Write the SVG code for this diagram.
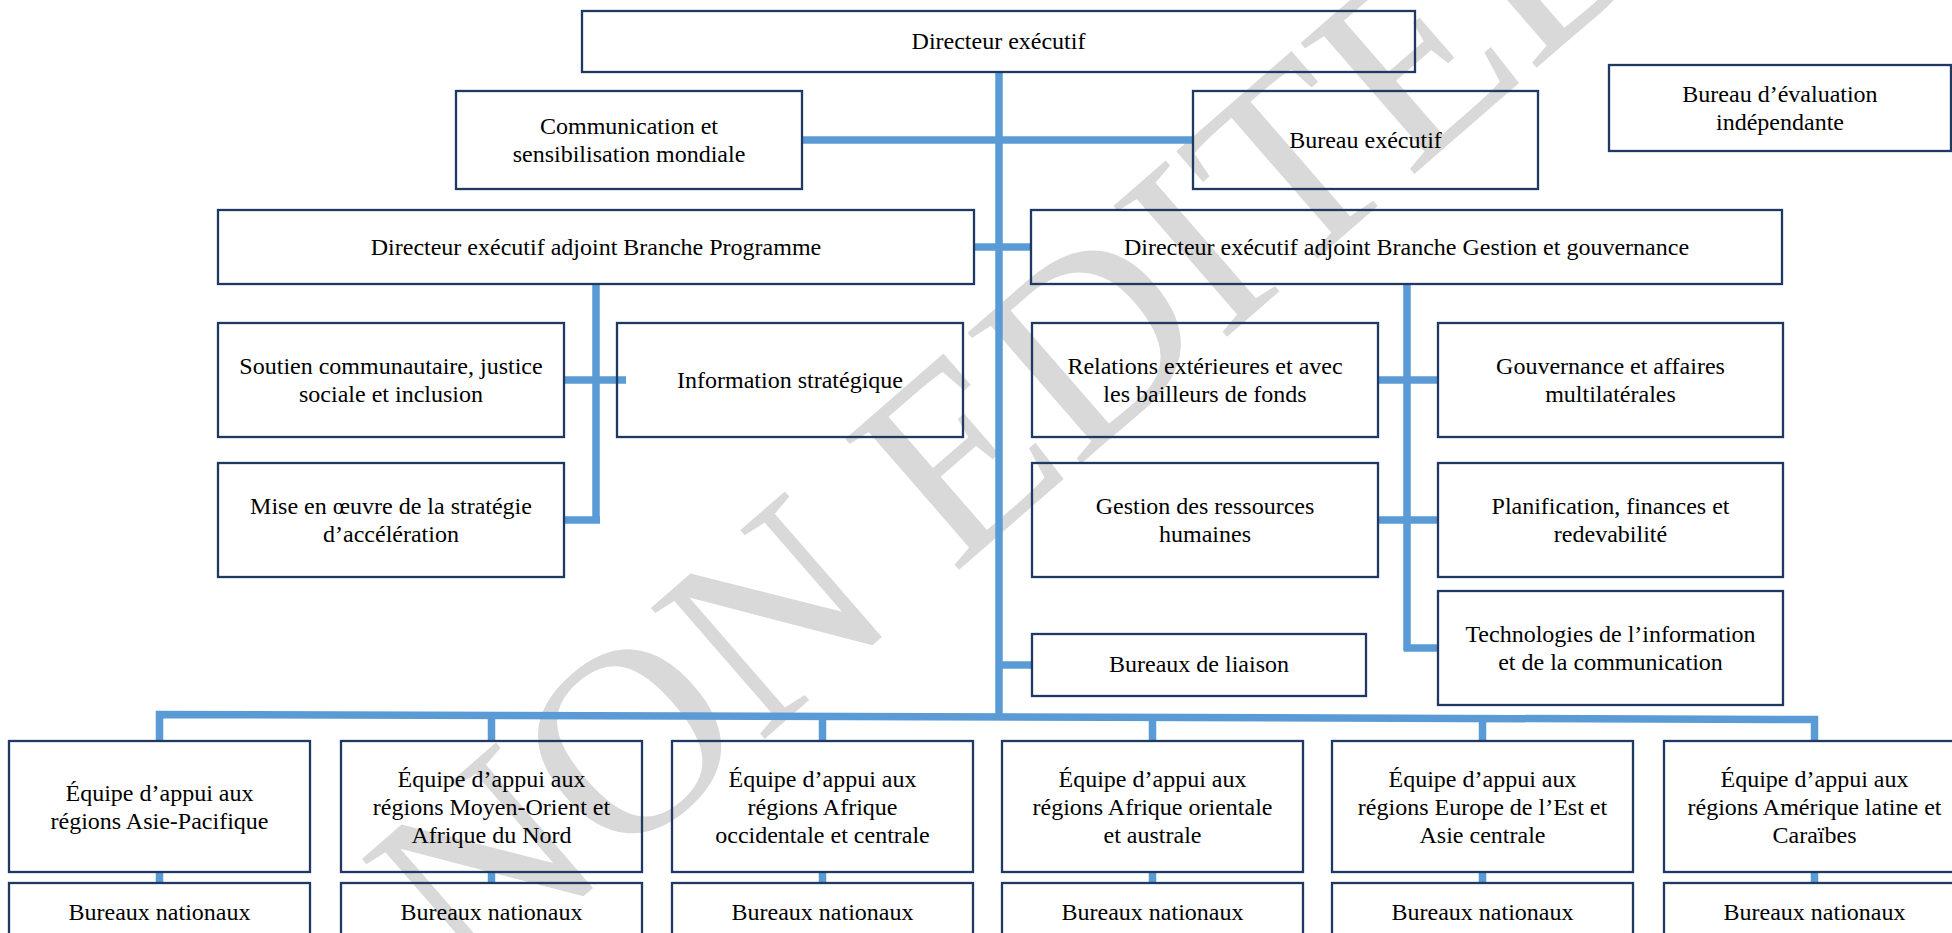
<svg xmlns="http://www.w3.org/2000/svg" width="1952" height="933" viewBox="0 0 1952 933">
<style>
.box{fill:none;stroke:#1F3864;stroke-width:2.3}
.t{font-family:"Liberation Serif","Times New Roman",serif;font-size:24px;fill:#000;text-anchor:middle}
.c{fill:none;stroke:#5B9BD5;stroke-width:7.5;stroke-linejoin:miter}
.wm{font-family:"Liberation Serif","Times New Roman",serif;font-size:265px;fill:#d9d9d9}
</style>
<rect width="1952" height="933" fill="#fff"/>
<g id="watermark">
<text class="wm" transform="translate(470,995) rotate(-41)">NON EDITED</text>
</g>
<g id="connectors">
<path class="c" d="M999 72 V720"/>
<path class="c" d="M802 140 H1193"/>
<path class="c" d="M974 247 H1031"/>
<path class="c" d="M596 284 V523 M564 380 H626 M564 520 H600"/>
<path class="c" d="M1407 284 V651 M1378 380 H1438 M1378 520 H1438 M1404 648 H1438"/>
<path class="c" d="M999 665 H1032"/>
<path class="c" d="M159.5 741 V714.5 L1814.5 719.5 V741"/>
<path class="c" d="M491.5 716 V741 M822.5 717 V741 M1152.5 718 V741 M1482.5 719 V741"/>
<path class="c" d="M159.5 872 V883 M491.5 872 V883 M822.5 872 V883 M1152.5 872 V883 M1482.5 872 V883 M1814.5 872 V883"/>
</g>
<g id="n-directeur"><rect class="box" x="582" y="11" width="833" height="61"/><text class="t" x="998.5" y="49">Directeur exécutif</text></g>
<g id="n-communication"><rect class="box" x="456" y="91" width="346" height="98"/><text class="t" x="629" y="134">Communication et</text><text class="t" x="629" y="162">sensibilisation mondiale</text></g>
<g id="n-bureau-executif"><rect class="box" x="1193" y="91" width="345" height="98"/><text class="t" x="1365.5" y="148">Bureau exécutif</text></g>
<g id="n-evaluation"><rect class="box" x="1609" y="65" width="342" height="86"/><text class="t" x="1780" y="102">Bureau d’évaluation</text><text class="t" x="1780" y="130">indépendante</text></g>
<g id="n-dea-programme"><rect class="box" x="218" y="210" width="756" height="74"/><text class="t" x="596" y="255">Directeur exécutif adjoint Branche Programme</text></g>
<g id="n-dea-gestion"><rect class="box" x="1031" y="210" width="751" height="74"/><text class="t" x="1406.5" y="255">Directeur exécutif adjoint Branche Gestion et gouvernance</text></g>
<g id="n-soutien"><rect class="box" x="218" y="323" width="346" height="114"/><text class="t" x="391" y="374">Soutien communautaire, justice</text><text class="t" x="391" y="402">sociale et inclusion</text></g>
<g id="n-information"><rect class="box" x="617" y="323" width="346" height="114"/><text class="t" x="790" y="388">Information stratégique</text></g>
<g id="n-mise"><rect class="box" x="218" y="463" width="346" height="114"/><text class="t" x="391" y="514">Mise en œuvre de la stratégie</text><text class="t" x="391" y="542">d’accélération</text></g>
<g id="n-relations"><rect class="box" x="1032" y="323" width="346" height="114"/><text class="t" x="1205" y="374">Relations extérieures et avec</text><text class="t" x="1205" y="402">les bailleurs de fonds</text></g>
<g id="n-gouvernance"><rect class="box" x="1438" y="323" width="345" height="114"/><text class="t" x="1610.5" y="374">Gouvernance et affaires</text><text class="t" x="1610.5" y="402">multilatérales</text></g>
<g id="n-rh"><rect class="box" x="1032" y="463" width="346" height="114"/><text class="t" x="1205" y="514">Gestion des ressources</text><text class="t" x="1205" y="542">humaines</text></g>
<g id="n-planification"><rect class="box" x="1438" y="463" width="345" height="114"/><text class="t" x="1610.5" y="514">Planification, finances et</text><text class="t" x="1610.5" y="542">redevabilité</text></g>
<g id="n-tic"><rect class="box" x="1438" y="591" width="345" height="114"/><text class="t" x="1610.5" y="642">Technologies de l’information</text><text class="t" x="1610.5" y="670">et de la communication</text></g>
<g id="n-liaison"><rect class="box" x="1032" y="634" width="334" height="62"/><text class="t" x="1199" y="672">Bureaux de liaison</text></g>
<g id="n-eq-asie"><rect class="box" x="9" y="741" width="301" height="131"/><text class="t" x="159.5" y="801">Équipe d’appui aux</text><text class="t" x="159.5" y="829">régions Asie-Pacifique</text></g>
<g id="n-eq-mena"><rect class="box" x="341" y="741" width="301" height="131"/><text class="t" x="491.5" y="787">Équipe d’appui aux</text><text class="t" x="491.5" y="815">régions Moyen-Orient et</text><text class="t" x="491.5" y="843">Afrique du Nord</text></g>
<g id="n-eq-aoc"><rect class="box" x="672" y="741" width="301" height="131"/><text class="t" x="822.5" y="787">Équipe d’appui aux</text><text class="t" x="822.5" y="815">régions Afrique</text><text class="t" x="822.5" y="843">occidentale et centrale</text></g>
<g id="n-eq-aoa"><rect class="box" x="1002" y="741" width="301" height="131"/><text class="t" x="1152.5" y="787">Équipe d’appui aux</text><text class="t" x="1152.5" y="815">régions Afrique orientale</text><text class="t" x="1152.5" y="843">et australe</text></g>
<g id="n-eq-eeac"><rect class="box" x="1332" y="741" width="301" height="131"/><text class="t" x="1482.5" y="787">Équipe d’appui aux</text><text class="t" x="1482.5" y="815">régions Europe de l’Est et</text><text class="t" x="1482.5" y="843">Asie centrale</text></g>
<g id="n-eq-alc"><rect class="box" x="1664" y="741" width="301" height="131"/><text class="t" x="1814.5" y="787">Équipe d’appui aux</text><text class="t" x="1814.5" y="815">régions Amérique latine et</text><text class="t" x="1814.5" y="843">Caraïbes</text></g>
<g id="n-bn-1"><rect class="box" x="9" y="883" width="301" height="80"/><text class="t" x="159.5" y="920">Bureaux nationaux</text></g>
<g id="n-bn-2"><rect class="box" x="341" y="883" width="301" height="80"/><text class="t" x="491.5" y="920">Bureaux nationaux</text></g>
<g id="n-bn-3"><rect class="box" x="672" y="883" width="301" height="80"/><text class="t" x="822.5" y="920">Bureaux nationaux</text></g>
<g id="n-bn-4"><rect class="box" x="1002" y="883" width="301" height="80"/><text class="t" x="1152.5" y="920">Bureaux nationaux</text></g>
<g id="n-bn-5"><rect class="box" x="1332" y="883" width="301" height="80"/><text class="t" x="1482.5" y="920">Bureaux nationaux</text></g>
<g id="n-bn-6"><rect class="box" x="1664" y="883" width="301" height="80"/><text class="t" x="1814.5" y="920">Bureaux nationaux</text></g>
</svg>
